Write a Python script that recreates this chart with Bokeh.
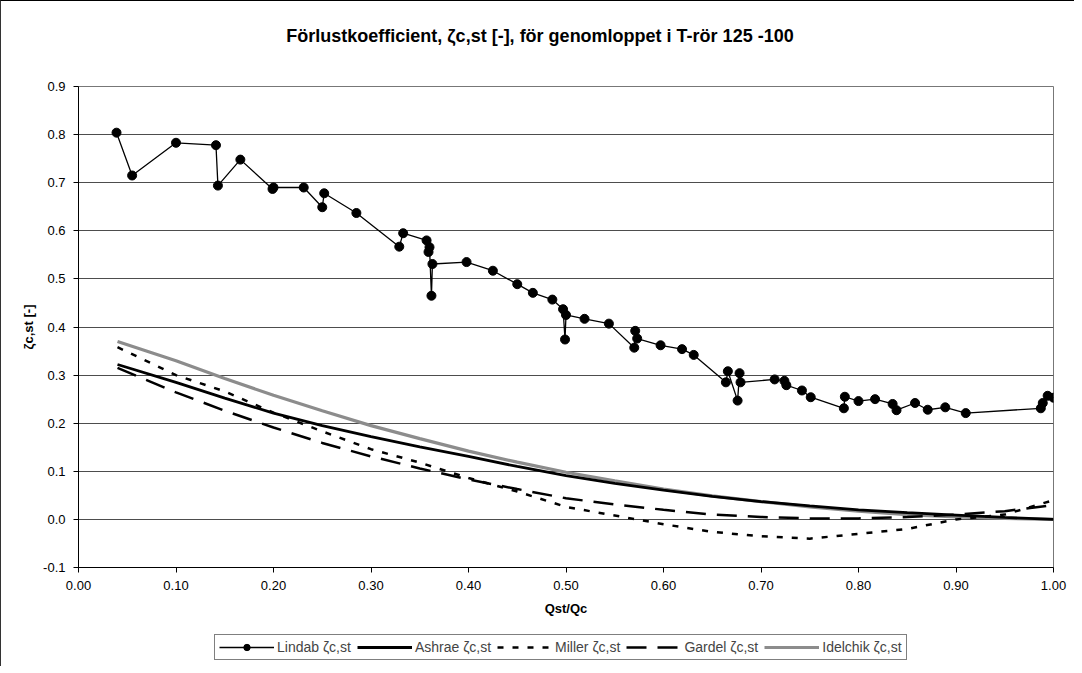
from bokeh.plotting import figure
from bokeh.layouts import column
from bokeh.models import Range1d, FixedTicker, NumeralTickFormatter, Legend, LegendItem, Label
from bokeh.embed import file_html
from bokeh.resources import INLINE

# ---- data ----
lindab_x = [0.039, 0.055, 0.100, 0.141, 0.143, 0.166, 0.199, 0.200, 0.231, 0.250,
            0.252, 0.285, 0.329, 0.333, 0.357, 0.359, 0.360, 0.362, 0.363, 0.398,
            0.425, 0.450, 0.466, 0.486, 0.497, 0.499, 0.500, 0.519, 0.544, 0.570,
            0.571, 0.573, 0.597, 0.619, 0.631, 0.664, 0.666, 0.676, 0.678, 0.679,
            0.714, 0.724, 0.726, 0.742, 0.751, 0.785, 0.786, 0.800, 0.817, 0.835,
            0.839, 0.858, 0.871, 0.889, 0.910, 0.987, 0.989, 0.994, 1.000]
lindab_y = [0.804, 0.715, 0.783, 0.778, 0.694, 0.748, 0.687, 0.690, 0.690, 0.649,
            0.678, 0.637, 0.567, 0.595, 0.580, 0.556, 0.566, 0.465, 0.531, 0.535,
            0.517, 0.489, 0.471, 0.457, 0.437, 0.374, 0.425, 0.417, 0.407, 0.357,
            0.392, 0.376, 0.362, 0.354, 0.342, 0.285, 0.308, 0.247, 0.304, 0.285,
            0.291, 0.288, 0.279, 0.268, 0.254, 0.231, 0.255, 0.246, 0.250, 0.240,
            0.227, 0.242, 0.228, 0.233, 0.221, 0.231, 0.242, 0.257, 0.253]

curve_x = [0.04, 0.10, 0.15, 0.20, 0.25, 0.30, 0.35, 0.40, 0.45, 0.50,
           0.55, 0.60, 0.65, 0.70, 0.75, 0.80, 0.85, 0.90, 0.95, 1.00]
ashrae_y = [0.322, 0.285, 0.252, 0.221, 0.195, 0.172, 0.151, 0.131, 0.110, 0.091,
            0.075, 0.061, 0.048, 0.037, 0.028, 0.020, 0.014, 0.009, 0.004, 0.000]
miller_y = [0.358, 0.300, 0.266, 0.222, 0.183, 0.146, 0.118, 0.086, 0.058, 0.026,
            0.008, -0.010, -0.026, -0.035, -0.040, -0.030, -0.020, 0.000, 0.010, 0.040]
gardel_y = [0.315, 0.264, 0.226, 0.191, 0.159, 0.131, 0.106, 0.083, 0.063, 0.044,
            0.031, 0.020, 0.010, 0.005, 0.002, 0.002, 0.005, 0.010, 0.017, 0.030]
idelchik_y = [0.370, 0.330, 0.293, 0.258, 0.226, 0.195, 0.168, 0.142, 0.119, 0.098,
              0.080, 0.063, 0.049, 0.037, 0.026, 0.017, 0.010, 0.005, 0.002, 0.000]

x_ticks = [0.0, 0.1, 0.2, 0.3, 0.4, 0.5, 0.6, 0.7, 0.8, 0.9, 1.0]
y_ticks = [-0.1, 0.0, 0.1, 0.2, 0.3, 0.4, 0.5, 0.6, 0.7, 0.8, 0.9]

title_text = "Förlustkoefficient,  ζc,st [-], för genomloppet i T-rör 125 -100"
labels = ["Lindab ζc,st", "Ashrae ζc,st", "Miller ζc,st", "Gardel ζc,st", "Idelchik ζc,st"]

FONT = "Liberation Sans"
W = 1073


def strip(height):
    f = figure(width=W, height=height, x_range=Range1d(0, 1), y_range=Range1d(10, 11),
               output_backend="svg", toolbar_location=None,
               min_border_left=0, min_border_right=0, min_border_top=0, min_border_bottom=0)
    f.axis.visible = False
    f.grid.visible = False
    f.outline_line_color = None
    f.background_fill_color = "white"
    f.border_fill_color = "white"
    return f


# ---- title strip ----
t = strip(56)
t.add_layout(Label(x=464, y=22, x_units="screen", y_units="screen", text=title_text,
                   text_font=FONT, text_font_size="18px", text_font_style="bold",
                   text_align="center", text_baseline="middle", text_color="black"))

# ---- main chart ----
p = figure(width=W, height=574, x_range=Range1d(0, 1), y_range=Range1d(-0.1, 0.9),
           output_backend="svg", toolbar_location=None,
           min_border_left=77, min_border_right=21, min_border_top=29, min_border_bottom=64)

p.xgrid.visible = False
p.ygrid.grid_line_color = "#4d4d4d"
p.ygrid.grid_line_width = 1
p.ygrid.ticker = FixedTicker(ticks=y_ticks)
p.outline_line_color = "#777777"
p.background_fill_color = "white"
p.border_fill_color = "white"

for ax in (p.xaxis[0], p.yaxis[0]):
    ax.axis_line_color = "black"
    ax.major_tick_line_color = "black"
    ax.major_tick_out = 5
    ax.major_tick_in = 0
    ax.minor_tick_line_color = None
    ax.major_label_text_font = FONT
    ax.major_label_text_font_size = "13px"
    ax.major_label_text_color = "black"
    ax.axis_label_text_font = FONT
    ax.axis_label_text_font_size = "13px"
    ax.axis_label_text_font_style = "bold"
    ax.axis_label_text_color = "black"

p.xaxis.ticker = FixedTicker(ticks=x_ticks)
p.xaxis.formatter = NumeralTickFormatter(format="0.00")
p.xaxis.axis_label = "Qst/Qc"
p.xaxis.major_label_standoff = 8
p.xaxis.axis_label_standoff = 8
p.yaxis.ticker = FixedTicker(ticks=y_ticks)
p.yaxis.formatter = NumeralTickFormatter(format="0.0")
p.yaxis.axis_label = "ζc,st [-]"
p.yaxis.major_label_standoff = 8
p.yaxis.axis_label_standoff = 4

IDEL = dict(line_color="#8c8c8c", line_width=3.2)
ASH = dict(line_color="black", line_width=2.8)
MIL = dict(line_color="black", line_width=2.5, line_dash="6 9")
GAR = dict(line_color="black", line_width=2.5, line_dash="20 11")
LIN = dict(line_color="black", line_width=1.3)
MRK = dict(size=9, fill_color="black", line_color="black")

p.line(curve_x, idelchik_y, **IDEL)
p.line(curve_x, ashrae_y, **ASH)
p.line(curve_x, miller_y, **MIL)
p.line(curve_x, gardel_y, **GAR)
p.line(lindab_x, lindab_y, **LIN)
p.scatter(lindab_x, lindab_y, **MRK)

# ---- legend strip (series drawn again but outside its view; only the legend shows) ----
q = strip(35)
k_lin_l = q.line(lindab_x, lindab_y, **LIN)
k_lin_m = q.scatter(lindab_x, lindab_y, **MRK)
k_ash = q.line(curve_x, ashrae_y, **ASH)
k_mil = q.line(curve_x, miller_y, **MIL)
k_gar = q.line(curve_x, gardel_y, **GAR)
k_idel = q.line(curve_x, idelchik_y, **IDEL)

legend = Legend(items=[
    LegendItem(label=labels[0], renderers=[k_lin_l, k_lin_m]),
    LegendItem(label=labels[1], renderers=[k_ash]),
    LegendItem(label=labels[2], renderers=[k_mil]),
    LegendItem(label=labels[3], renderers=[k_gar]),
    LegendItem(label=labels[4], renderers=[k_idel]),
], orientation="horizontal", location=(136, 6))
legend.border_line_color = "black"
legend.border_line_width = 1
legend.label_text_font = FONT
legend.label_text_font_size = "14px"
legend.glyph_width = 55
legend.glyph_height = 16
legend.label_standoff = 3
legend.spacing = 6
legend.padding = 4
legend.margin = 0
legend.background_fill_color = "white"
q.add_layout(legend)

lay = column(t, p, q, spacing=0)
lay.styles = {"border-left": "1px solid #333333", "border-top": "1px solid #000000"}

open("out.html", "w").write(file_html(lay, INLINE))
